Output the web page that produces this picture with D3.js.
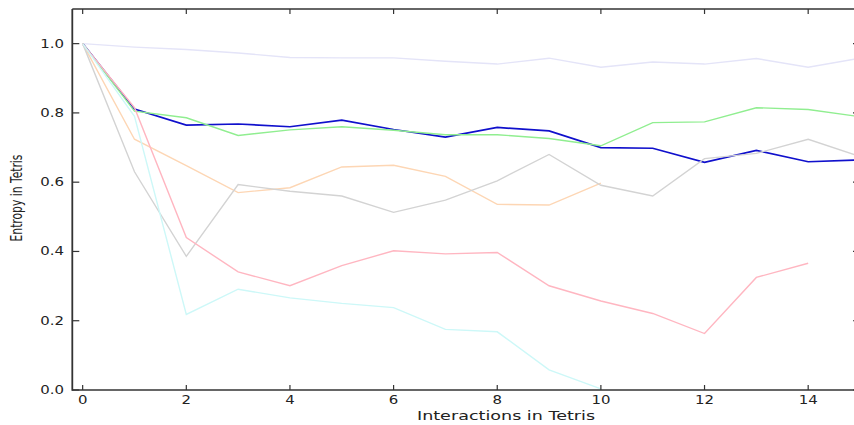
<!DOCTYPE html>
<html>
<head>
<meta charset="utf-8">
<script src="https://cdn.jsdelivr.net/npm/d3@7"></script>
<style>
  html, body { margin: 0; padding: 0; background: #fff; }
  svg { display: block; }
  text { font-family: "DejaVu Sans", sans-serif; fill: #222; }
</style>
</head>
<body>
<svg id="chart" width="854" height="425"></svg>
<script>
// ---- data ----
const xTicks = [0, 2, 4, 6, 8, 10, 12, 14];
const yTicks = [0.0, 0.2, 0.4, 0.6, 0.8, 1.0];
const yTickLabels = ["0.0", "0.2", "0.4", "0.6", "0.8", "1.0"];
const xLabel = "Interactions in Tetris";
const yLabel = "Entropy in Tetris";

const lavender = [1.0, 0.99, 0.983, 0.973, 0.96, 0.959, 0.959, 0.949, 0.941, 0.958, 0.932, 0.947, 0.941, 0.957, 0.932, 0.958];
const blue     = [1.0, 0.811, 0.765, 0.768, 0.760, 0.779, 0.752, 0.730, 0.758, 0.748, 0.700, 0.698, 0.657, 0.692, 0.659, 0.664];
const green    = [1.0, 0.805, 0.786, 0.735, 0.751, 0.760, 0.750, 0.737, 0.737, 0.726, 0.705, 0.772, 0.774, 0.815, 0.810, 0.789];
const peach    = [1.0, 0.724, 0.648, 0.570, 0.584, 0.644, 0.649, 0.617, 0.536, 0.534, 0.597];
const gray     = [1.0, 0.630, 0.386, 0.593, 0.574, 0.560, 0.513, 0.548, 0.604, 0.680, 0.591, 0.560, 0.668, 0.683, 0.724, 0.674];
const pink     = [1.0, 0.815, 0.440, 0.341, 0.301, 0.359, 0.402, 0.393, 0.397, 0.301, 0.257, 0.221, 0.163, 0.325, 0.366];
const cyan     = [1.0, 0.79, 0.218, 0.291, 0.266, 0.250, 0.238, 0.175, 0.168, 0.058, 0.003];

const seriesList = [
  { name: "lavender", values: lavender, color: "#e4e4f8", width: 1.4 },
  { name: "blue", values: blue, color: "#1010cc", width: 1.7 },
  { name: "green", values: green, color: "#90ee90", width: 1.4 },
  { name: "peach", values: peach, color: "#fdd6b4", width: 1.4 },
  { name: "gray", values: gray, color: "#d3d3d3", width: 1.4 },
  { name: "pink", values: pink, color: "#ffb6c1", width: 1.4 },
  { name: "cyan", values: cyan, color: "#cdf8f8", width: 1.4 }
];

// ---- layout ----
const svg = d3.select("#chart");
const pLeft = 72.3, pRight = 860, pTop = 9, pBottom = 390;
const x = d3.scaleLinear().domain([-0.2, 15]).range([pLeft, pRight]);
const y = d3.scaleLinear().domain([0, 1.1]).range([pBottom, pTop]);
const SX = 1.3; // horizontal stretch of text

svg.append("defs").append("clipPath").attr("id", "clip")
  .append("rect").attr("x", pLeft).attr("y", pTop).attr("width", pRight - pLeft).attr("height", pBottom - pTop);

const line = d3.line().x((d, i) => x(i)).y(d => y(d));
const g = svg.append("g").attr("clip-path", "url(#clip)");
seriesList.forEach(s => {
  g.append("path").datum(s.values)
    .attr("d", line)
    .attr("fill", "none")
    .attr("stroke", s.color)
    .attr("stroke-width", s.width)
    .attr("stroke-linejoin", "miter");
});

// ---- spines ----
const spine = "#333";
svg.append("line").attr("x1", pLeft).attr("x2", pLeft).attr("y1", pTop).attr("y2", pBottom + 0.7)
  .attr("stroke", spine).attr("stroke-width", 1.8);
svg.append("line").attr("x1", pRight).attr("x2", pRight).attr("y1", pTop).attr("y2", pBottom)
  .attr("stroke", spine).attr("stroke-width", 1.8);
svg.append("line").attr("x1", pLeft).attr("x2", pRight).attr("y1", pBottom).attr("y2", pBottom)
  .attr("stroke", spine).attr("stroke-width", 1.4);
svg.append("line").attr("x1", pLeft).attr("x2", pRight).attr("y1", pTop).attr("y2", pTop)
  .attr("stroke", spine).attr("stroke-width", 1.4);

// ---- ticks (inward) ----
const tickG = svg.append("g").attr("stroke", spine).attr("stroke-width", 1.2);
xTicks.forEach(t => {
  tickG.append("line").attr("x1", x(t)).attr("x2", x(t)).attr("y1", pBottom).attr("y2", pBottom - 5);
  tickG.append("line").attr("x1", x(t)).attr("x2", x(t)).attr("y1", pTop).attr("y2", pTop + 5);
});
yTicks.forEach(t => {
  tickG.append("line").attr("x1", pLeft).attr("x2", pLeft + 7).attr("y1", y(t)).attr("y2", y(t));
  tickG.append("line").attr("x1", pRight).attr("x2", pRight - 7).attr("y1", y(t)).attr("y2", y(t));
});

// ---- tick labels ----
xTicks.forEach(t => {
  svg.append("text")
    .attr("transform", `translate(${x(t)},404) scale(${SX},1)`)
    .attr("text-anchor", "middle")
    .attr("font-size", "11.5px")
    .text(String(t));
});
yTicks.forEach((t, i) => {
  svg.append("text")
    .attr("transform", `translate(64,${y(t) + 4}) scale(${SX},1)`)
    .attr("text-anchor", "end")
    .attr("font-size", "11.5px")
    .text(yTickLabels[i]);
});

// ---- axis labels ----
svg.append("text")
  .attr("transform", `translate(506,420) scale(1.35,1)`)
  .attr("text-anchor", "middle")
  .attr("font-size", "13px")
  .text(xLabel);

svg.append("text")
  .attr("transform", `translate(22,198) scale(${SX},0.86) rotate(-90)`)
  .attr("text-anchor", "middle")
  .attr("font-size", "12.5px")
  .text(yLabel);
</script>
</body>
</html>
